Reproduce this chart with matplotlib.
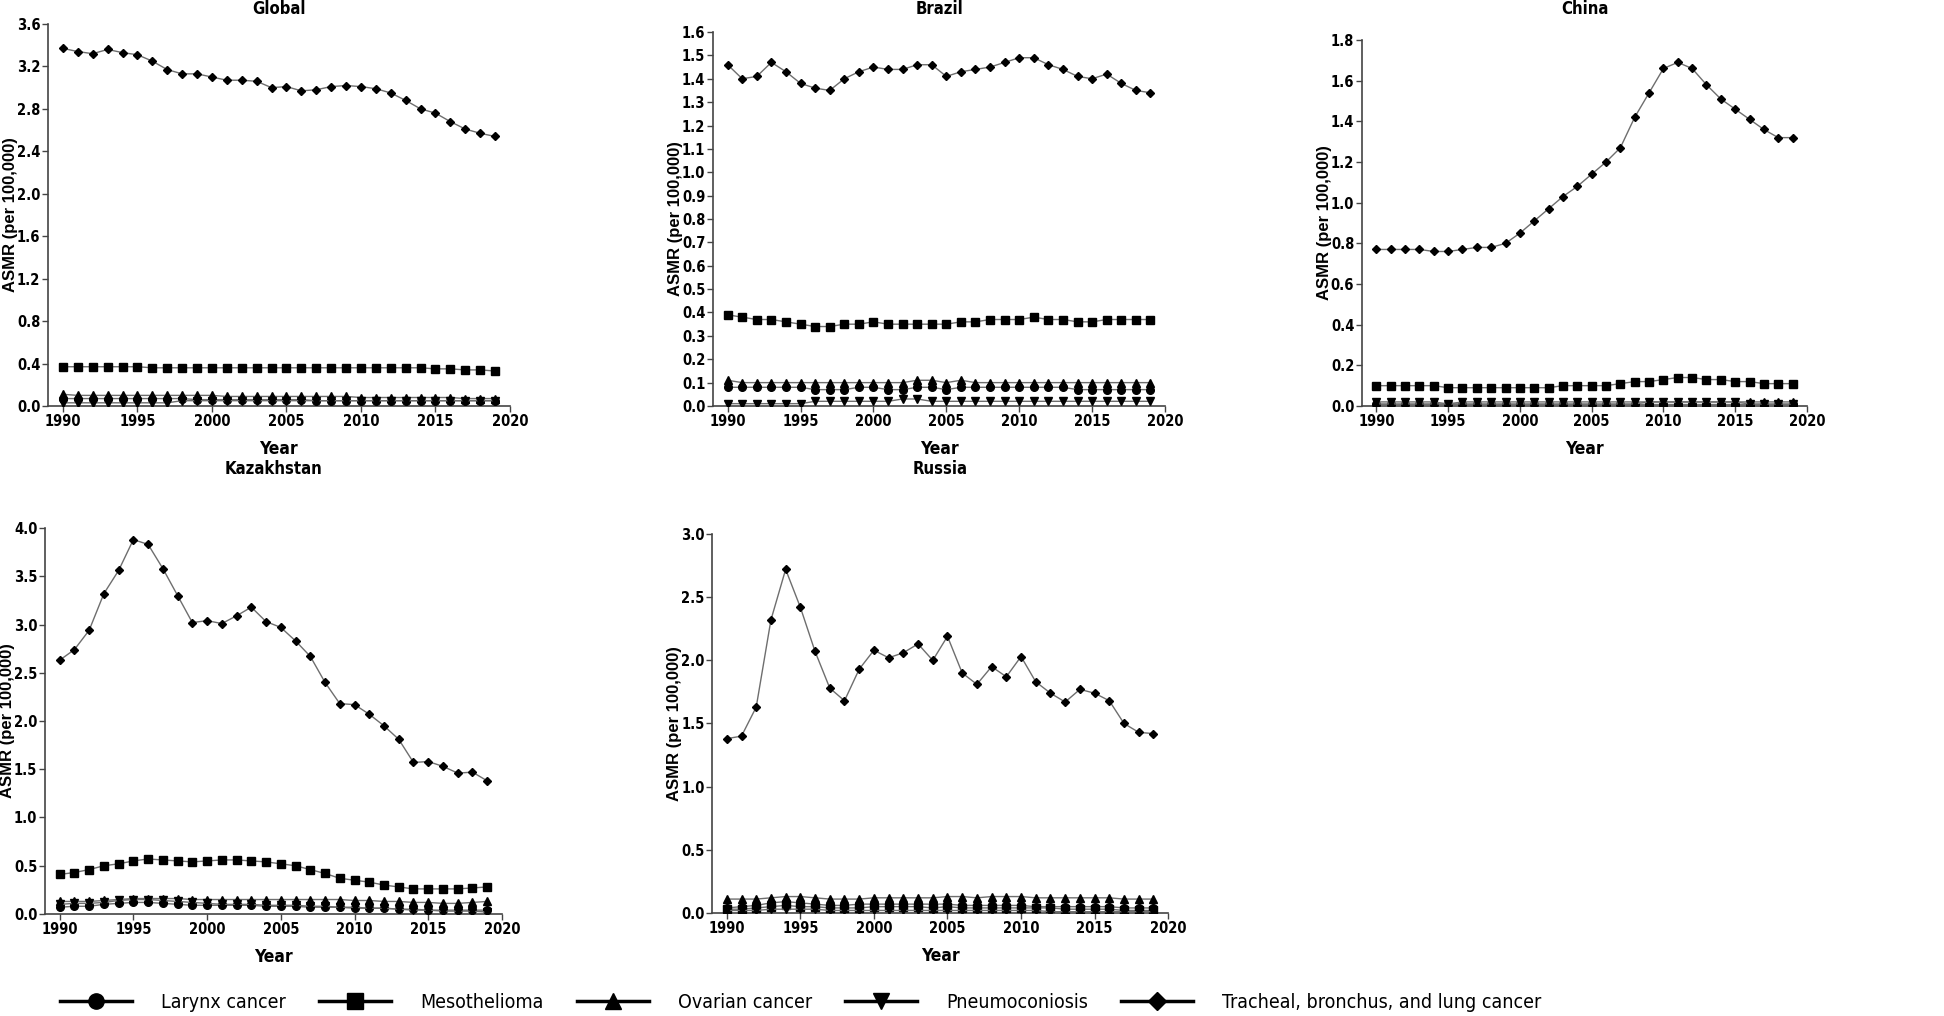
import matplotlib
matplotlib.use("Agg")
import matplotlib.pyplot as plt
from matplotlib.lines import Line2D
import numpy as np

FONT = ["DejaVu Sans"]
LABEL_FONT = ["Liberation Sans", "DejaVu Sans"]
LINE_COLOR = "#6e6e6e"
FIG_W, FIG_H = 1944, 1016

years = list(range(1990, 2020))

causes = ["Larynx cancer", "Mesothelioma", "Ovarian cancer", "Pneumoconiosis",
          "Tracheal, bronchus, and lung cancer"]
markers = ["o", "s", "^", "v", "D"]

# ---- Global ----
global_larynx = [0.07, 0.07, 0.07, 0.07, 0.07, 0.07, 0.07, 0.07, 0.07, 0.06, 0.06, 0.06, 0.06, 0.06, 0.06,
                 0.06, 0.06, 0.05, 0.05, 0.05, 0.05, 0.05, 0.05, 0.05, 0.05, 0.05, 0.05, 0.05, 0.05, 0.05]
global_meso = [0.37, 0.37, 0.37, 0.37, 0.37, 0.37, 0.36, 0.36, 0.36, 0.36, 0.36, 0.36, 0.36, 0.36, 0.36,
               0.36, 0.36, 0.36, 0.36, 0.36, 0.36, 0.36, 0.36, 0.36, 0.36, 0.35, 0.35, 0.34, 0.34, 0.33]
global_ovarian = [0.11, 0.10, 0.10, 0.10, 0.10, 0.10, 0.10, 0.10, 0.10, 0.10, 0.10, 0.09, 0.09, 0.09, 0.09,
                  0.09, 0.09, 0.09, 0.09, 0.09, 0.08, 0.08, 0.08, 0.08, 0.08, 0.08, 0.08, 0.07, 0.07, 0.07]
global_pneumo = [0.03, 0.03, 0.03, 0.03, 0.03, 0.03, 0.03, 0.03, 0.05, 0.05, 0.05, 0.05, 0.05, 0.05, 0.05,
                 0.05, 0.05, 0.05, 0.05, 0.05, 0.05, 0.05, 0.05, 0.05, 0.05, 0.05, 0.05, 0.05, 0.05, 0.05]
global_lung = [3.37, 3.34, 3.32, 3.36, 3.33, 3.31, 3.25, 3.17, 3.13, 3.13, 3.10, 3.07, 3.07, 3.06, 3.00,
               3.01, 2.97, 2.98, 3.01, 3.02, 3.01, 2.99, 2.95, 2.88, 2.80, 2.76, 2.68, 2.61, 2.57, 2.54]

# ---- Brazil ----
brazil_larynx = [0.08, 0.08, 0.08, 0.08, 0.08, 0.08, 0.07, 0.07, 0.07, 0.08, 0.08, 0.07, 0.07, 0.08, 0.08,
                 0.07, 0.08, 0.08, 0.08, 0.08, 0.08, 0.08, 0.08, 0.08, 0.07, 0.07, 0.07, 0.07, 0.07, 0.07]
brazil_meso = [0.39, 0.38, 0.37, 0.37, 0.36, 0.35, 0.34, 0.34, 0.35, 0.35, 0.36, 0.35, 0.35, 0.35, 0.35,
               0.35, 0.36, 0.36, 0.37, 0.37, 0.37, 0.38, 0.37, 0.37, 0.36, 0.36, 0.37, 0.37, 0.37, 0.37]
brazil_ovarian = [0.11, 0.10, 0.10, 0.10, 0.10, 0.10, 0.10, 0.10, 0.10, 0.10, 0.10, 0.10, 0.10, 0.11, 0.11,
                  0.10, 0.11, 0.10, 0.10, 0.10, 0.10, 0.10, 0.10, 0.10, 0.10, 0.10, 0.10, 0.10, 0.10, 0.10]
brazil_pneumo = [0.01, 0.01, 0.01, 0.01, 0.01, 0.01, 0.02, 0.02, 0.02, 0.02, 0.02, 0.02, 0.03, 0.03, 0.02,
                 0.02, 0.02, 0.02, 0.02, 0.02, 0.02, 0.02, 0.02, 0.02, 0.02, 0.02, 0.02, 0.02, 0.02, 0.02]
brazil_lung = [1.46, 1.40, 1.41, 1.47, 1.43, 1.38, 1.36, 1.35, 1.40, 1.43, 1.45, 1.44, 1.44, 1.46, 1.46,
               1.41, 1.43, 1.44, 1.45, 1.47, 1.49, 1.49, 1.46, 1.44, 1.41, 1.40, 1.42, 1.38, 1.35, 1.34]

# ---- China ----
china_larynx = [0.01, 0.01, 0.01, 0.01, 0.01, 0.01, 0.01, 0.01, 0.01, 0.01, 0.01, 0.01, 0.01, 0.01, 0.01,
                0.01, 0.01, 0.01, 0.01, 0.01, 0.01, 0.01, 0.01, 0.01, 0.01, 0.01, 0.01, 0.01, 0.01, 0.01]
china_meso = [0.10, 0.10, 0.10, 0.10, 0.10, 0.09, 0.09, 0.09, 0.09, 0.09, 0.09, 0.09, 0.09, 0.10, 0.10,
              0.10, 0.10, 0.11, 0.12, 0.12, 0.13, 0.14, 0.14, 0.13, 0.13, 0.12, 0.12, 0.11, 0.11, 0.11]
china_ovarian = [0.01, 0.01, 0.01, 0.01, 0.01, 0.01, 0.01, 0.01, 0.01, 0.01, 0.01, 0.01, 0.01, 0.01, 0.01,
                 0.01, 0.01, 0.01, 0.01, 0.02, 0.02, 0.02, 0.02, 0.02, 0.02, 0.02, 0.02, 0.02, 0.02, 0.02]
china_pneumo = [0.02, 0.02, 0.02, 0.02, 0.02, 0.01, 0.02, 0.02, 0.02, 0.02, 0.02, 0.02, 0.02, 0.02, 0.02,
                0.02, 0.02, 0.02, 0.02, 0.02, 0.02, 0.02, 0.02, 0.02, 0.02, 0.02, 0.01, 0.01, 0.01, 0.01]
china_lung = [0.77, 0.77, 0.77, 0.77, 0.76, 0.76, 0.77, 0.78, 0.78, 0.80, 0.85, 0.91, 0.97, 1.03, 1.08,
              1.14, 1.20, 1.27, 1.42, 1.54, 1.66, 1.69, 1.66, 1.58, 1.51, 1.46, 1.41, 1.36, 1.32, 1.32]

# ---- Kazakhstan ----
kaz_larynx = [0.07, 0.08, 0.08, 0.10, 0.11, 0.12, 0.12, 0.11, 0.10, 0.09, 0.09, 0.09, 0.09, 0.09, 0.08,
              0.08, 0.08, 0.07, 0.07, 0.07, 0.06, 0.06, 0.06, 0.05, 0.05, 0.04, 0.04, 0.04, 0.04, 0.04]
kaz_meso = [0.41, 0.43, 0.46, 0.50, 0.52, 0.55, 0.57, 0.56, 0.55, 0.54, 0.55, 0.56, 0.56, 0.55, 0.54,
            0.52, 0.50, 0.46, 0.42, 0.37, 0.35, 0.33, 0.30, 0.28, 0.26, 0.26, 0.26, 0.26, 0.27, 0.28]
kaz_ovarian = [0.13, 0.13, 0.13, 0.14, 0.15, 0.16, 0.16, 0.16, 0.16, 0.15, 0.15, 0.15, 0.15, 0.15, 0.15,
               0.15, 0.15, 0.15, 0.15, 0.15, 0.14, 0.14, 0.13, 0.13, 0.12, 0.12, 0.11, 0.11, 0.12, 0.13]
kaz_pneumo = [0.10, 0.11, 0.11, 0.12, 0.14, 0.15, 0.15, 0.14, 0.13, 0.12, 0.11, 0.10, 0.10, 0.10, 0.09,
              0.09, 0.09, 0.08, 0.08, 0.07, 0.07, 0.06, 0.06, 0.05, 0.04, 0.04, 0.03, 0.03, 0.03, 0.02]
kaz_lung = [2.63, 2.74, 2.94, 3.32, 3.56, 3.88, 3.83, 3.58, 3.30, 3.02, 3.04, 3.01, 3.09, 3.18, 3.03,
            2.97, 2.83, 2.67, 2.40, 2.18, 2.17, 2.07, 1.95, 1.81, 1.57, 1.58, 1.53, 1.46, 1.47, 1.38]

# ---- Russia ----
rus_larynx = [0.04, 0.05, 0.06, 0.08, 0.09, 0.08, 0.07, 0.06, 0.06, 0.07, 0.07, 0.07, 0.07, 0.07, 0.07,
              0.07, 0.06, 0.06, 0.06, 0.06, 0.06, 0.05, 0.05, 0.05, 0.05, 0.05, 0.05, 0.04, 0.04, 0.04]
rus_meso = [0.03, 0.03, 0.04, 0.05, 0.06, 0.05, 0.05, 0.04, 0.04, 0.04, 0.05, 0.05, 0.05, 0.05, 0.04,
            0.05, 0.04, 0.04, 0.04, 0.04, 0.04, 0.04, 0.04, 0.03, 0.03, 0.03, 0.03, 0.02, 0.02, 0.02]
rus_ovarian = [0.11, 0.11, 0.11, 0.12, 0.13, 0.13, 0.12, 0.11, 0.11, 0.11, 0.12, 0.12, 0.12, 0.12, 0.12,
               0.13, 0.13, 0.12, 0.13, 0.13, 0.13, 0.12, 0.12, 0.12, 0.12, 0.12, 0.12, 0.11, 0.11, 0.11]
rus_pneumo = [0.02, 0.02, 0.02, 0.03, 0.03, 0.03, 0.03, 0.02, 0.02, 0.02, 0.02, 0.02, 0.02, 0.02, 0.02,
              0.02, 0.02, 0.02, 0.02, 0.02, 0.02, 0.02, 0.01, 0.01, 0.01, 0.01, 0.01, 0.01, 0.01, 0.01]
rus_lung = [1.38, 1.40, 1.63, 2.32, 2.72, 2.42, 2.07, 1.78, 1.68, 1.93, 2.08, 2.02, 2.06, 2.13, 2.00,
            2.19, 1.90, 1.81, 1.95, 1.87, 2.03, 1.83, 1.74, 1.67, 1.77, 1.74, 1.68, 1.50, 1.43, 1.42]

# panel: title, series, y max, y step, axes rect [l, b, w, h], title y (fig frac)
panels = [
    ("Global", [global_larynx, global_meso, global_ovarian, global_pneumo, global_lung], 3.6, 0.4,
     [0.0247, 0.6004, 0.2376, 0.3760], 0.991),
    ("Brazil", [brazil_larynx, brazil_meso, brazil_ovarian, brazil_pneumo, brazil_lung], 1.6, 0.1,
     [0.3668, 0.6004, 0.2325, 0.3681], 0.991),
    ("China", [china_larynx, china_meso, china_ovarian, china_pneumo, china_lung], 1.8, 0.2,
     [0.7006, 0.6004, 0.2289, 0.3602], 0.991),
    ("Kazakhstan", [kaz_larynx, kaz_meso, kaz_ovarian, kaz_pneumo, kaz_lung], 4.0, 0.5,
     [0.0231, 0.1004, 0.2351, 0.3799], 0.538),
    ("Russia", [rus_larynx, rus_meso, rus_ovarian, rus_pneumo, rus_lung], 3.0, 0.5,
     [0.3663, 0.1014, 0.2346, 0.3730], 0.538),
]

fig = plt.figure(figsize=(FIG_W / 100, FIG_H / 100), dpi=100)

for title, series, ymax, ystep, rect, ty in panels:
    ax = fig.add_axes(rect)
    for vals, mk in zip(series, markers):
        ms = 6 if mk == "s" else 5.5
        if mk == "D":
            ms = 4.5
        ax.plot(years, vals, color=LINE_COLOR, lw=1.0, marker=mk, ms=ms,
                mfc="black", mec="black", zorder=3)
    ax.set_xlim(1989, 2020)
    ax.set_ylim(0, ymax)
    ax.set_xticks(range(1990, 2021, 5))
    ax.set_yticks(np.round(np.arange(0, ymax + ystep / 2, ystep), 2))
    ax.yaxis.set_major_formatter(matplotlib.ticker.FormatStrFormatter("%.1f"))
    for s in ["top", "right"]:
        ax.spines[s].set_visible(False)
    for s in ["left", "bottom"]:
        ax.spines[s].set_color("#444444")
        ax.spines[s].set_linewidth(1.2)
    ax.tick_params(direction="out", length=4, width=1, color="#444444", pad=1.5)
    for lab in ax.get_xticklabels() + ax.get_yticklabels():
        lab.set_family(FONT)
        lab.set_stretch("condensed")
        lab.set_fontweight("bold")
        lab.set_fontsize(10.5)
    ax.set_ylabel("ASMR (per 100,000)", family=LABEL_FONT, fontweight="bold", fontsize=12)
    # the label's anchor is its right edge; keep it a fixed 30 px left of the spine
    ax.yaxis.set_label_coords(-30 / (rect[2] * FIG_W), 0.5)
    ax.set_xlabel("Year", family=FONT, fontstretch="condensed", fontweight="bold", fontsize=12.5,
                  labelpad=8)
    cx = rect[0] + rect[2] / 2
    fig.text(cx, ty, title, ha="center", va="center", family=FONT, fontstretch="condensed",
             fontweight="bold", fontsize=12)

handles = [Line2D([0], [0], color="black", lw=2.5, marker=mk, ms=11 if mk != "D" else 9,
                  mfc="black", mec="black") for mk in markers]
fig.legend(handles, causes, loc="center left", bbox_to_anchor=(0.022, 0.013), ncol=5, frameon=False,
           prop={"family": FONT, "stretch": "condensed", "size": 14}, handlelength=3.7,
           handletextpad=1.5, columnspacing=1.7)

fig.savefig("out.png", dpi=100)
